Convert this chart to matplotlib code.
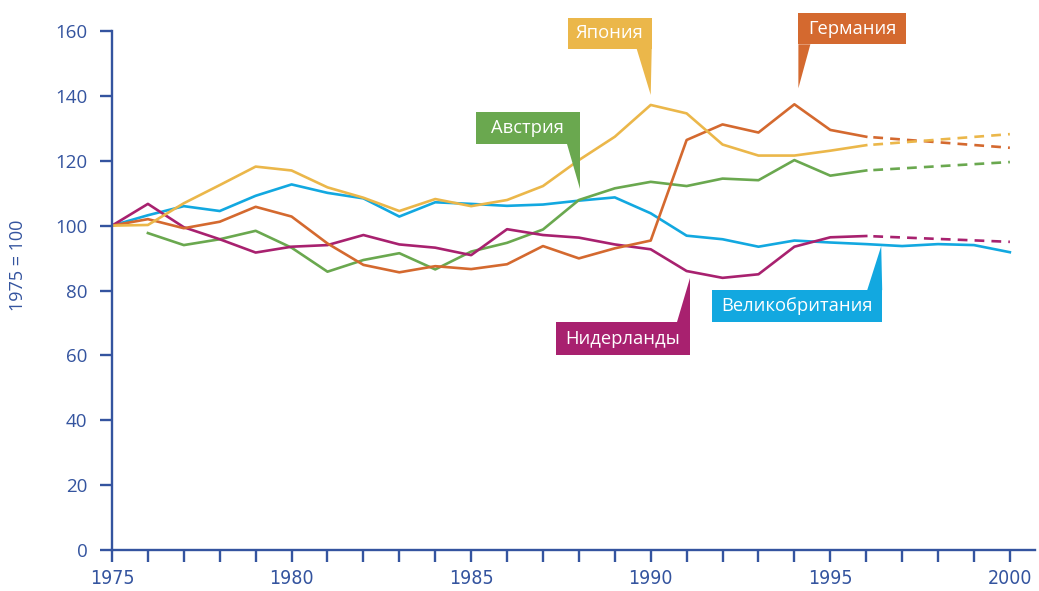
import matplotlib
matplotlib.use("Agg")
import matplotlib.pyplot as plt
from matplotlib import font_manager
from matplotlib.patches import Polygon
from matplotlib.transforms import IdentityTransform

# ---- data: index, 1975 = 100 ----
years = list(range(1975, 1997))
years_full = list(range(1975, 2001))
years_austria = list(range(1976, 1997))
proj_years = [1996, 2000]

japan = [100, 100.2, 106.9, 112.5, 118.2, 117.0, 111.8, 108.6, 104.5, 108.2, 106.0,
         107.9, 112.2, 120.2, 127.4, 137.2, 134.6, 125.0, 121.6, 121.6, 123.1, 124.8]
germany = [100, 102.0, 99.2, 101.2, 105.8, 102.8, 94.5, 87.9, 85.6, 87.5, 86.6,
           88.1, 93.7, 89.9, 93.0, 95.4, 126.4, 131.2, 128.7, 137.4, 129.5, 127.4]
austria = [97.7, 94.0, 95.8, 98.4, 93.2, 85.8, 89.4, 91.5, 86.5, 92.0,
           94.7, 98.8, 107.9, 111.5, 113.5, 112.2, 114.5, 114.0, 120.2, 115.4, 117.0]
netherlands = [100, 106.7, 99.5, 95.8, 91.7, 93.5, 94.0, 97.1, 94.2, 93.2, 90.9,
               98.9, 97.1, 96.3, 94.2, 92.7, 86.0, 83.9, 85.0, 93.5, 96.4, 96.8]
uk = [100, 103.2, 106.0, 104.5, 109.2, 112.7, 110.1, 108.4, 102.8, 107.2, 106.7,
      106.1, 106.5, 107.7, 108.7, 103.8, 96.9, 95.8, 93.5, 95.4, 94.8, 94.3,
      93.7, 94.3, 94.0, 91.8]

# forecast end points for 2000
japan_2000 = 128.2
germany_2000 = 124.0
austria_2000 = 119.6
netherlands_2000 = 95.0

x_ticks = [1975, 1980, 1985, 1990, 1995, 2000]
y_ticks = [0, 20, 40, 60, 80, 100, 120, 140, 160]
y_label = "1975 = 100"

# ---- style ----
c_axis = "#34549F"
c_japan = "#EBB74A"
c_germany = "#D4692F"
c_austria = "#6AA84F"
c_uk = "#12A8E0"
c_nl = "#A8216F"

names = {f.name for f in font_manager.fontManager.ttflist}
main_font = "Open Sans" if "Open Sans" in names else "DejaVu Sans"
if "Liberation Sans Narrow" in names:
    narrow = dict(fontfamily="Liberation Sans Narrow")
else:
    narrow = dict(fontfamily="DejaVu Sans", fontstretch="condensed")

W, H = 1039, 591
fig = plt.figure(figsize=(W / 100, H / 100), dpi=100)
ax = fig.add_axes([112 / W, 41 / H, (1035 - 112) / W, (550 - 31) / H])
ax.set_xlim(1975, 2000.70)
ax.set_ylim(0, 160)

lw = 1.9
dash = (3.7, (3.7, 2.7))

ax.plot(years_full, uk, color=c_uk, lw=lw)
ax.plot(years_austria, austria, color=c_austria, lw=lw)
ax.plot(years, netherlands, color=c_nl, lw=lw)
ax.plot(years, germany, color=c_germany, lw=lw)
ax.plot(years, japan, color=c_japan, lw=lw)

ax.plot(proj_years, [austria[-1], austria_2000], color=c_austria, lw=lw, ls=dash)
ax.plot(proj_years, [netherlands[-1], netherlands_2000], color=c_nl, lw=lw, ls=dash)
ax.plot(proj_years, [germany[-1], germany_2000], color=c_germany, lw=lw, ls=dash)
ax.plot(proj_years, [japan[-1], japan_2000], color=c_japan, lw=lw, ls=dash)

# ---- axes ----
for s in ("top", "right"):
    ax.spines[s].set_visible(False)
for s in ("left", "bottom"):
    ax.spines[s].set_color(c_axis)
    ax.spines[s].set_linewidth(1.7)

ax.set_yticks(y_ticks)
ax.set_yticklabels([str(v) for v in y_ticks], fontfamily=main_font)
ax.set_xticks(x_ticks)
ax.set_xticklabels([str(v) for v in x_ticks], **narrow)
ax.set_xticks(years_full, minor=True)
ax.tick_params(axis="y", length=8.6, width=1.7, color=c_axis, labelcolor=c_axis,
               labelsize=13.5, pad=9)
ax.tick_params(axis="x", which="both", length=8.6, width=1.7, color=c_axis,
               labelcolor=c_axis, labelsize=14, pad=5)

fig.text(18 / W, 1 - 265 / H, y_label, rotation=90, ha="center", va="center",
         color=c_axis, fontsize=13, fontfamily=main_font)


# ---- callouts: box with a wedge pointing at a point of the series ----
def callout(label, color, year, value, tip_off, box, tail):
    """tip_off: (dx, dy) px from the data point (y down);
    box: (left, right, top, bottom) px relative to the tip (y down);
    tail: (x0, x1) px relative to the tip, base of the wedge on the box edge."""
    px, py = ax.transData.transform((year, value))
    tx, ty = px + tip_off[0], py - tip_off[1]
    l, r, t, b = box
    above = b < 0  # box sits above the tip
    edge = b if above else t
    pts_box = [(tx + l, ty - t), (tx + r, ty - t), (tx + r, ty - b), (tx + l, ty - b)]
    tail_pts = [(tx + tail[0], ty - edge), (tx + tail[1], ty - edge), (tx, ty)]
    for pts in (pts_box, tail_pts):
        fig.add_artist(Polygon(pts, closed=True, facecolor=color, edgecolor="none",
                               transform=IdentityTransform(), zorder=5))
    fig.text(tx + (l + r) / 2, ty - (t + b) / 2, label, transform=IdentityTransform(),
             ha="center", va="center", color="white", fontsize=13.2,
             fontfamily=main_font, fontweight="medium", zorder=6)


callout("Япония", c_japan, 1990, japan[15], (0, -10), (-83, 1, -77, -46), (-14, 1))
callout("Германия", c_germany, 1994, germany[19], (4, -16), (0, 108, -75, -44), (0, 12))
callout("Австрия", c_austria, 1988, austria[12], (1, -11), (-104, 0, -77, -45), (-13, 0))
callout("Нидерланды", c_nl, 1991, netherlands[16], (3, 7), (-134, 0, 44, 77), (-13, 0))
callout("Великобритания", c_uk, 1996, uk[21], (15, 2), (-169, 1, 44, 76), (-14, 1))

fig.savefig("out.png", dpi=100)
